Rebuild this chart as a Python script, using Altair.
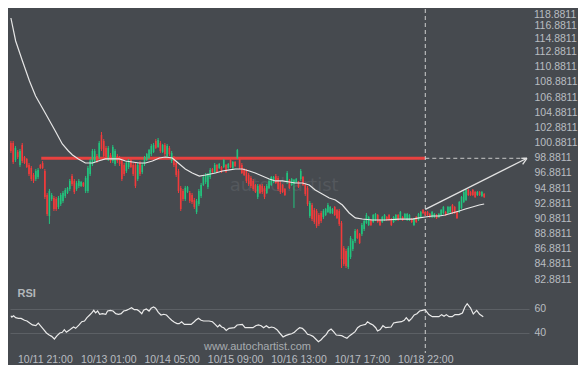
import altair as alt
import pandas as pd

BG = "#464a4f"
UP = "#22c47e"
DOWN = "#f23b3b"
LABEL = "#b9bdc1"

# ---------------- data ----------------
highs = [101.08,101.08,100.42,99.89,100.03,100.82,99.10,98.84,98.18,97.78,
96.86,97.39,97.52,98.05,98.44,97.39,94.22,94.75,94.22,93.83,
93.70,93.83,94.22,94.49,94.88,95.01,96.07,96.73,96.07,95.81,
96.07,95.81,95.67,96.46,97.78,98.71,100.03,100.03,99.37,101.08,
102.27,101.34,100.42,100.42,99.50,100.55,100.03,99.37,99.10,98.71,
98.18,98.44,98.71,98.71,98.18,98.18,98.18,98.44,98.18,99.10,
99.50,100.03,100.69,100.82,101.34,101.48,101.08,100.69,100.82,100.69,
100.42,99.76,99.10,98.44,97.39,95.15,94.75,95.15,95.15,94.49,
94.22,93.56,93.43,94.75,95.54,96.46,96.86,96.86,97.52,97.52,
98.18,98.05,98.18,97.78,98.71,98.05,98.18,98.71,98.44,98.44,
100.03,98.84,98.18,97.52,97.39,96.86,96.46,96.07,95.41,95.41,
95.41,95.41,95.15,95.41,96.07,96.46,96.46,96.73,96.46,95.81,
95.41,94.88,97.12,96.07,96.20,96.07,96.20,95.81,97.39,96.46,
95.54,95.15,93.17,92.91,92.25,92.11,91.59,91.85,92.11,92.25,
92.91,92.51,92.25,92.51,92.11,92.11,90.53,87.23,86.84,87.23,
88.55,88.16,89.48,89.48,88.95,90.27,90.79,91.59,91.19,90.79,
91.45,91.59,91.45,90.79,91.19,91.45,91.19,91.45,90.93,91.19,
91.45,91.45,91.85,91.19,91.59,91.59,91.45,90.93,90.93,91.19,
91.59,91.85,92.11,91.85,91.85,91.59,91.85,91.59,91.45,91.59,
92.11,92.51,91.85,92.51,92.51,92.77,92.51,91.85,93.17,93.83,
94.49,94.75,94.75,94.49,94.75,94.49,94.49,94.49,94.49,94.22]

lows = [99.50,98.05,98.31,98.71,97.65,98.18,98.05,97.52,96.46,95.81,
95.54,95.81,96.07,97.39,97.39,93.43,91.19,90.14,93.17,91.85,
91.85,92.11,92.51,92.91,93.56,94.09,94.49,95.15,94.09,94.49,
94.88,95.01,95.01,94.22,94.22,96.46,97.78,98.18,98.18,98.71,
99.76,98.84,98.71,98.44,98.18,98.18,97.78,98.18,97.78,95.81,
96.46,96.86,97.39,97.52,96.46,94.88,95.81,96.46,96.73,97.78,
98.44,98.71,99.10,99.50,100.03,100.16,99.50,99.50,99.10,98.84,
99.10,98.18,97.65,96.33,94.22,91.85,93.17,93.17,94.22,92.91,
92.77,92.11,91.45,92.51,93.56,95.15,95.41,94.75,96.07,96.86,
96.86,96.86,97.39,96.86,97.52,96.86,97.39,97.52,97.39,97.65,
98.71,97.39,96.73,96.46,95.54,95.15,94.88,94.49,94.22,93.43,
94.09,94.09,93.43,94.09,94.75,95.15,95.54,95.41,94.49,94.09,
94.22,93.83,95.41,94.75,95.15,92.25,95.54,94.88,95.81,95.15,
93.83,92.51,90.93,90.53,90.14,89.61,89.87,90.27,90.79,91.19,
91.59,91.45,91.45,91.19,90.79,89.87,84.33,84.60,84.33,84.20,
85.52,86.57,87.63,88.16,87.50,88.55,89.21,90.14,89.87,89.87,
90.27,90.53,90.27,89.87,90.27,90.53,90.53,90.53,89.87,90.27,
90.53,90.53,90.79,90.53,90.79,90.53,90.53,90.27,89.87,90.27,
90.53,90.93,91.45,91.19,91.19,90.93,90.93,90.93,90.79,90.93,
91.19,91.45,91.19,91.45,91.59,91.45,91.45,90.79,91.59,92.11,
92.91,93.17,93.83,93.83,93.83,93.56,93.83,93.83,93.70,93.56]

opens = [100.82,100.82,98.58,99.63,97.92,100.55,98.97,98.71,97.92,97.52,
96.60,96.07,96.33,97.92,98.18,97.12,93.96,91.19,93.43,93.56,
93.43,92.38,92.77,93.17,93.83,94.22,94.75,96.46,95.81,94.75,
95.15,95.15,95.54,94.49,94.49,96.73,98.05,98.44,99.10,98.97,
101.87,101.08,100.16,98.71,99.24,98.44,98.05,99.10,98.97,98.44,
97.92,97.12,97.65,98.58,97.92,97.92,96.07,98.18,96.99,98.05,
98.58,98.84,99.37,99.63,101.08,100.29,100.82,99.63,100.55,99.10,
100.16,98.44,98.97,98.18,97.12,94.88,94.49,93.43,94.35,94.22,
93.96,93.30,91.72,92.77,93.83,95.28,95.67,95.01,96.33,97.39,
96.99,97.92,97.52,97.65,97.65,97.92,97.52,98.58,97.52,98.31,
98.84,98.71,97.92,97.39,97.12,96.60,96.20,95.81,95.28,93.70,
95.28,95.15,94.88,94.22,94.88,95.28,95.67,96.46,96.20,95.54,
95.28,94.75,95.67,95.94,95.28,95.41,95.67,95.67,96.07,96.33,
95.28,94.88,91.19,92.64,91.98,91.85,91.32,91.59,91.06,91.32,
91.72,91.59,91.59,92.38,91.98,91.85,90.27,86.97,86.57,84.47,
85.78,86.84,87.89,89.34,88.82,88.82,89.48,90.27,90.00,90.66,
90.40,90.66,91.32,90.66,90.40,90.66,91.06,91.32,90.79,90.40,
90.66,91.32,90.93,91.06,90.93,90.66,90.66,90.79,90.00,91.06,
90.66,91.06,91.98,91.72,91.72,91.45,91.06,91.06,91.32,91.06,
91.32,91.59,91.72,91.59,91.72,92.64,92.38,91.72,91.72,92.25,
93.04,93.30,94.62,94.35,94.62,94.35,93.96,94.35,93.83,94.09]

closes = [99.76,98.31,100.16,98.97,99.76,98.44,98.18,97.65,96.73,96.07,
95.81,97.12,97.26,97.52,97.52,93.70,91.45,94.49,93.96,92.11,
92.11,93.56,93.96,94.22,94.62,94.88,95.81,95.41,94.35,95.54,
95.81,95.67,95.15,96.20,97.52,98.44,99.76,99.76,98.44,100.82,
100.03,99.10,98.97,100.16,98.44,100.29,99.76,98.44,98.05,96.07,
96.73,98.18,98.44,97.65,96.73,95.15,97.92,96.73,97.92,98.97,
99.37,99.89,100.42,100.55,100.16,101.21,99.76,100.55,99.37,100.42,
99.37,99.50,97.92,96.60,94.49,92.11,93.43,94.88,95.01,93.17,
93.04,92.38,93.17,94.49,95.28,96.33,96.60,96.60,97.26,96.99,
97.92,96.99,98.05,96.99,98.58,96.99,98.05,97.65,98.31,97.78,
99.89,97.52,96.86,96.60,95.81,95.41,95.15,94.75,94.35,95.15,
94.22,94.35,93.70,95.15,95.81,96.33,96.33,95.54,94.75,94.35,
94.35,93.96,96.86,94.88,96.07,95.94,96.07,95.01,97.12,95.28,
94.09,92.77,92.91,90.79,90.40,89.87,90.13,90.53,91.85,92.11,
92.64,92.38,92.11,91.32,90.93,90.13,85.52,84.86,84.60,86.97,
88.29,87.89,89.21,88.29,87.63,90.00,90.53,91.32,91.06,90.00,
91.32,91.45,90.40,90.00,91.06,91.32,90.66,90.66,90.00,91.06,
91.32,90.66,91.72,90.66,91.45,91.45,91.32,90.40,90.79,90.40,
91.45,91.72,91.59,91.32,91.32,91.06,91.72,91.45,90.93,91.45,
91.98,92.38,91.32,92.38,92.38,91.59,91.59,90.93,93.04,93.70,
94.35,94.62,93.96,93.96,93.96,93.70,94.35,93.96,94.35,93.70]

ma_idx = [0,2.1,5.1,8.2,10.9,15.4,19.6,22.7,25.4,27.2,29.8,32.9,36,38.6,41.7,47.9,50.6,53.6,56.7,
          59.4,62.5,65.6,68.2,71.3,74.4,77,80.1,83.2,86,90.3,93.4,96.5,99.1,102.2,105.3,107.9,111,
          114.1,116.8,119.9,123,125.6,128.7,131.8,134.4,137.5,140.6,143.3,146.4,149.4,152.1,155.2,
          159.6,165.3,171.5,177.3,180.3,183,186.1,189.2,191.8,194.9,198,200.7,203.8,206.8,209]
ma_val = [117.30,114.27,111.63,108.99,107.02,104.64,102.40,100.69,99.76,99.24,98.71,98.18,98.18,98.44,
          98.71,98.71,98.44,98.31,98.18,98.18,98.44,98.84,98.97,98.84,98.05,97.39,96.86,96.46,96.60,
          96.86,97.12,97.26,97.39,97.39,97.12,96.86,96.46,96.07,95.81,95.81,95.67,95.54,95.54,95.28,
          94.62,94.09,93.56,93.30,92.64,91.59,90.93,90.79,90.66,90.66,90.79,90.79,90.93,91.06,91.19,
          91.19,91.32,91.59,91.85,92.11,92.38,92.64,92.77]

rsi_idx = [0,0.4,1.2,2.1,3.3,4.5,6,7.1,8.3,9.5,11,12.1,13.3,14.5,15.7,16.9,18,19.2,20.4,21.6,22.7,
           23.6,24.5,25.7,26.9,27.7,28.6,30.1,31.3,32.5,33.6,34.8,35.7,36.6,37.4,38.3,39.2,40.4,41.9,
           42.7,43.9,45.1,46.3,47.5,48.7,49.8,51,52.2,53.3,54.5,55.7,56.6,57.8,58.6,59.8,61,61.9,63,
           63.9,65.1,66.3,67.5,68.7,69.8,71,72.2,73.4,74.3,75.4,76.6,79.6,80.7,81.6,82.8,84,85.1,87.5,
           89,90.2,91.3,92.2,93.1,94,95.1,96.3,98.7,99.9,102.2,103.4,106.9,108.1,109.3,110.5,111.6,
           112.8,114,115.1,116.3,117.5,118.7,120.2,121.3,122.8,124,125.2,126.4,127.5,128.7,129.9,131,
           132.2,133.4,134.6,135.8,137,138.1,139.3,140.2,141.4,142.5,143.7,146.1,147.2,148.4,149.6,
           150.8,152,153.1,154.3,155.5,156.6,157.5,158.7,159.9,161.1,161.9,163.1,164.3,165.5,167.9,
           169,170.2,172.5,173.7,174.6,175.8,177,178.1,179.3,180.5,181.7,182.9,184.6,186.1,189,190.2,
           191.3,192.3,193.5,194.9,196.1,197.9,199.4,200.5,201.5,203,204.2,205.7,207,208.6]
rsi_val = [54.4,53.3,54.4,52.8,52.2,52.2,50.6,50.0,48.3,46.7,46.1,48.3,45.6,42.8,40.0,38.3,37.2,35.0,
           37.8,40.0,40.6,42.8,40.6,42.2,43.9,45.0,43.9,46.7,49.4,50.0,52.8,55.0,56.7,58.9,56.7,58.3,
           55.6,56.1,55.6,58.3,58.9,58.3,56.1,55.6,56.1,58.3,58.9,60.0,61.1,59.4,59.4,58.3,56.1,58.9,
           60.0,58.3,60.6,61.7,60.6,57.2,55.0,55.6,55.0,52.8,50.6,48.9,47.8,47.8,49.4,47.2,47.2,48.9,
           50.6,52.2,50.6,50.0,50.0,49.4,47.2,45.0,46.7,45.0,44.4,42.2,43.9,44.4,46.7,47.2,44.4,44.4,
           46.1,46.7,46.1,44.4,46.1,44.4,45.0,44.4,42.8,40.0,36.7,37.8,38.9,39.4,40.6,42.8,44.4,43.9,
           41.7,38.9,38.3,37.2,35.0,32.8,34.4,36.7,38.9,41.7,43.3,41.1,38.3,37.8,36.7,35.6,37.8,39.4,
           41.1,44.4,46.1,46.7,47.2,49.4,47.8,46.7,44.4,41.7,42.8,46.1,44.4,45.0,48.3,48.9,49.4,50.6,
           52.8,50.0,52.2,55.0,56.1,58.3,58.9,59.4,55.3,53.6,53.6,55.3,53.9,55.3,53.6,53.6,55.3,55.3,
           56.7,61.7,64.4,60.8,55.8,58.9,55.6,53.6]

price_ticks = [82.8811, 84.8811, 86.8811, 88.8811, 90.8811, 92.8811, 94.8811, 96.8811, 98.8811,
               100.8811, 102.8811, 104.8811, 106.8811, 108.8811, 110.8811, 112.8811, 114.8811,
               116.8811]
top_tick = [118.8811]
rsi_ticks = [40, 60]
time_idx = [15, 43, 71, 99, 127, 155, 183]
time_labels = ["10/11 21:00", "10/13 01:00", "10/14 05:00", "10/15 09:00",
               "10/16 13:00", "10/17 17:00", "10/18 22:00"]

level_price = [98.8]
level_start = [13.4]
pattern_end = [183]
proj_end = [227.9]
trend_x = [183, 227.9]
trend_y = [92.07, 98.8]
head_x2 = [225.4, 226.0]
head_y2 = [98.8, 98.01]

# ---------------- scales / axes ----------------
X_DOMAIN = [-0.4, 228.8]
P_DOMAIN = [81.958, 118.487]
R_DOMAIN = [23.33, 77.5]
xs = alt.Scale(domain=X_DOMAIN, nice=False, zero=False)
ps = alt.Scale(domain=P_DOMAIN, nice=False, zero=False)
rs = alt.Scale(domain=R_DOMAIN, nice=False, zero=False)

# the top two labels are nudged down a little to make room for the topmost one
price_axis = alt.Axis(orient="right", values=price_ticks, format=".4f", grid=False, domain=False,
                      ticks=False, labelPadding=5, labelColor=LABEL, labelFontSize=10.5,
                      labelAlign="left", labelOverlap=False, title=None,
                      labelOffset={"condition": [{"test": "datum.value > 116", "value": 4},
                                                 {"test": "datum.value > 114", "value": 2}],
                                   "value": 0})

label_expr = " : ".join([f"datum.value == {i} ? '{t}'" for i, t in zip(time_idx, time_labels)]) + " : ''"
time_axis = alt.Axis(values=time_idx, labelExpr=label_expr, grid=False, domain=False, ticks=False,
                     labelPadding=1, labelColor=LABEL, labelFontSize=10.5, labelOverlap=False,
                     title=None)
rsi_axis = alt.Axis(orient="right", values=rsi_ticks, grid=True, gridColor="#5c6065", gridWidth=1,
                    domain=False, ticks=False, labelPadding=5, labelColor=LABEL, labelFontSize=10.5,
                    labelAlign="left", title=None)

def PX(f):
    return alt.X(f, type="quantitative", scale=xs, axis=None, title=None)

def PY(f):
    return alt.Y(f, type="quantitative", scale=ps, axis=price_axis, title=None)

def RX(f):
    return alt.X(f, type="quantitative", scale=xs, axis=time_axis, title=None)

def RY(f):
    return alt.Y(f, type="quantitative", scale=rs, axis=rsi_axis, title=None)

candles = pd.DataFrame({"i": list(range(len(highs))), "open": opens, "high": highs,
                        "low": lows, "close": closes})
base = alt.Chart(candles).transform_calculate(
    dir="datum.close >= datum.open ? 'up' : 'down'")
color = alt.Color("dir:N", scale=alt.Scale(domain=["up", "down"], range=[UP, DOWN]), legend=None)

wicks = base.mark_rule(strokeWidth=1).encode(x=PX("i"), y=PY("low"), y2="high:Q", color=color)
bodies = base.mark_rule(strokeWidth=1.6).encode(x=PX("i"), y=PY("open"), y2="close:Q", color=color)

ma = alt.Chart(pd.DataFrame({"i": ma_idx, "v": ma_val})).mark_line(
    color="#e6e6e6", strokeWidth=1.2).encode(x=PX("i"), y=PY("v"))

lvl = pd.DataFrame({"x": level_start, "x2": pattern_end, "y": level_price})
level = alt.Chart(lvl).mark_rule(color="#e8413f", strokeWidth=3).encode(
    x=PX("x"), x2="x2:Q", y=PY("y"))

proj = pd.DataFrame({"x": pattern_end, "x2": proj_end, "y": level_price})
proj_line = alt.Chart(proj).mark_rule(color="#c9c9c9", strokeWidth=1, strokeDash=[4, 3]).encode(
    x=PX("x"), x2="x2:Q", y=PY("y"))

trend = alt.Chart(pd.DataFrame({"x": trend_x, "y": trend_y})).mark_line(
    color="#e2e2e2", strokeWidth=1.3).encode(x=PX("x"), y=PY("y"))

head = pd.DataFrame({"x": [proj_end[0]] * 2, "y": [level_price[0]] * 2, "x2": head_x2, "y2": head_y2})
arrow = alt.Chart(head).mark_rule(color="#e2e2e2", strokeWidth=1.3).encode(
    x=PX("x"), y=PY("y"), x2="x2:Q", y2="y2:Q")

vline_top = alt.Chart(pd.DataFrame({"x": pattern_end})).mark_rule(
    color="#cfcfcf", strokeWidth=1, strokeDash=[4, 3]).encode(x=PX("x"))

wm = alt.Chart(pd.DataFrame({"x": [120.7], "y": [94.49], "t": ["autochartist"]})).mark_text(
    font="DejaVu Sans", fontSize=18, color="#54585d", baseline="alphabetic").encode(
    x=PX("x"), y=PY("y"), text="t:N")

# top price label sits above the plot edge: drawn as text just right of the plot
top_lbl = alt.Chart(pd.DataFrame({"x": [X_DOMAIN[1]], "y": top_tick,
                                  "t": [f"{top_tick[0]:.4f}"]})).mark_text(
    align="left", baseline="middle", dx=5, dy=8.5, fontSize=10.5, color=LABEL).encode(
    x=PX("x"), y=PY("y"), text="t:N")

price_panel = alt.layer(wm, level, proj_line, vline_top, wicks, bodies, ma, trend, arrow,
                        top_lbl).properties(width=519, height=277)

rsi_line = alt.Chart(pd.DataFrame({"i": rsi_idx, "v": rsi_val})).mark_line(
    color="#eaeaea", strokeWidth=1.2).encode(x=RX("i"), y=RY("v"))
vline_bot = alt.Chart(pd.DataFrame({"x": pattern_end})).mark_rule(
    color="#cfcfcf", strokeWidth=1, strokeDash=[4, 3]).encode(x=RX("x"))
rsi_txt = alt.Chart(pd.DataFrame({"x": [2.9], "y": [72.5], "t": ["RSI"]})).mark_text(
    align="left", baseline="middle", fontSize=11, fontWeight="bold", color="#b3b7bb").encode(
    x=RX("x"), y=RY("y"), text="t:N")
site_txt = alt.Chart(pd.DataFrame({"x": [132.5], "y": [28.3], "t": ["www.autochartist.com"]})).mark_text(
    align="right", baseline="middle", fontSize=11, color="#a8acb0").encode(
    x=RX("x"), y=RY("y"), text="t:N")

rsi_panel = alt.layer(vline_bot, rsi_line, rsi_txt, site_txt).properties(width=519, height=65)

chart = alt.vconcat(price_panel, rsi_panel, spacing=0).properties(
    background=BG, padding=0
).configure(font="Liberation Sans").configure_view(stroke=None)

chart.save("out.html", embed_options={"renderer": "svg", "actions": False})
